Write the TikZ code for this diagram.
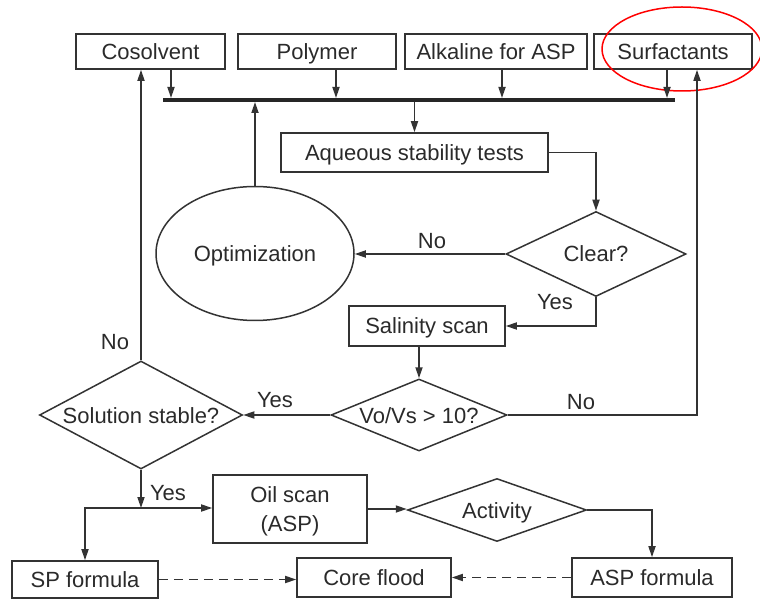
\documentclass[tikz,border=0pt]{standalone}
\usepackage{fontspec}
\setmainfont{Liberation Sans}
\usetikzlibrary{shapes.geometric,arrows.meta}
\definecolor{ln}{HTML}{333333}
\definecolor{tx}{HTML}{2A2A2A}
\tikzset{
  every node/.style={text=tx, font=\fontsize{22}{26}\selectfont},
  box/.style={draw=ln, line width=1.6pt, rectangle, inner sep=0pt, text height=18pt, text depth=2pt},
  dia/.style={draw=ln, line width=1.5pt, diamond, inner sep=0pt},
  conn/.style={draw=ln, line width=1.7pt},
  arr/.style={conn, -{Triangle[length=11pt,width=7pt]}},
  darr/.style={arr, dash pattern=on 9pt off 6pt},
  lbl/.style={inner sep=0pt, text height=18pt, text depth=2pt}
}
\begin{document}
\begin{tikzpicture}[x=1pt,y=-1pt]
\useasboundingbox (0,0) rectangle (760,601);
% top boxes
\node[box, minimum width=149, minimum height=35] (cos) at (150.5,51.5) {Cosolvent};
\node[box, minimum width=158, minimum height=35] (pol) at (317,51.5) {Polymer};
\node[box, minimum width=182, minimum height=35] (alk) at (496,51.5) {Alkaline for ASP};
\node[box, minimum width=158, minimum height=35] (sur) at (673,51.5) {Surfactants};
\node[draw=red, line width=1.5pt, ellipse, minimum width=160, minimum height=84, inner sep=0pt] (hl) at (682,49) {};
% bus
\coordinate (busL) at (163,100);
\coordinate (busR) at (675,100);
\draw[draw=black!85, line width=4pt] (busL) -- (busR);
\draw[arr, shorten >=2pt] ([xshift=20.5pt]cos.south) -- ([xshift=20.5pt]cos.south |- busL);
\draw[arr, shorten >=2pt] ([xshift=19pt]pol.south) -- ([xshift=19pt]pol.south |- busL);
\draw[arr, shorten >=2pt] ([xshift=6pt]alk.south) -- ([xshift=6pt]alk.south |- busL);
\draw[arr, shorten >=2pt] ([xshift=-6pt]sur.south) -- ([xshift=-6pt]sur.south |- busL);
% aqueous
\node[box, minimum width=267, minimum height=39] (aq) at (414.5,152.5) {Aqueous stability tests};
\draw[arr, shorten <=2pt] (busL -| aq.north) -- (aq.north);
% clear
\node[dia, minimum width=180, minimum height=85] (clr) at (596,254) {};
\node[lbl] (clrt) at (596,254) {Clear?};
\draw[arr] (aq.east) -| (clr.north);
% optimization
\node[draw=ln, line width=1.5pt, ellipse, minimum width=198, minimum height=134, inner sep=0pt] (opt) at (255,253.5) {};
\node[lbl] (optt) at (255,253.5) {Optimization};
\draw[arr] (clr.west) -- (clr.west -| opt.east);
\node[lbl] (no1) at (432,241) {No};
\draw[arr, shorten >=2pt] (opt.north) -- (opt.north |- busL);
% salinity
\node[box, minimum width=156, minimum height=40] (sal) at (427,326) {Salinity scan};
\draw[arr] (clr.south) |- (sal.east);
\node[lbl] (yes1) at (555,302) {Yes};
% Vo/Vs
\node[dia, minimum width=176, minimum height=72] (vo) at (419,415) {};
\node[lbl] (vot) at (419,415) {Vo/Vs > 10?};
\draw[arr] (vo.north |- sal.south) -- (vo.north);
\draw[arr] (vo.east) -| ([xshift=24pt]sur.south);
\node[lbl] (no2) at (581,401) {No};
% solution stable
\node[dia, minimum width=203, minimum height=108] (ss) at (141,415) {};
\node[lbl] (sst) at (141,415) {Solution stable?};
\draw[arr] (vo.west) -- (ss.east);
\node[lbl] (yes2) at (275,399) {Yes};
\draw[arr] (ss.north) -- (ss.north |- cos.south);
\node[lbl] (no3) at (115,341) {No};
% bottom
\node[draw=ln, line width=1.6pt, rectangle, inner sep=0pt, minimum width=154, minimum height=68] (oil) at (290,509) {};
\node[align=center, inner sep=0pt] (oilt) at (290,511.5) {Oil scan\\[3pt](ASP)};
\node[dia, minimum width=179, minimum height=63] (act) at (497,510) {};
\node[lbl] (actt) at (497,510) {Activity};
\node[box, minimum width=146, minimum height=37] (sp) at (85,579.5) {SP formula};
\node[box, minimum width=154, minimum height=39] (core) at (374,577.5) {Core flood};
\node[box, minimum width=160, minimum height=39] (asp) at (652,577.5) {ASP formula};
\coordinate (j) at (141,508);
\draw[arr] (ss.south) -- (j);
\node[lbl] (yes3) at (168,492) {Yes};
\draw[arr] (j) -- (j -| oil.west);
\draw[arr] (j) -| (sp.north);
\draw[arr] (oil.east) -- (oil.east -| act.west);
\draw[arr] (act.east) -| (asp.north);
\draw[darr] (sp.east) -- (sp.east -| core.west);
\draw[darr] (asp.west) -- (asp.west -| core.east);
\end{tikzpicture}
\end{document}
